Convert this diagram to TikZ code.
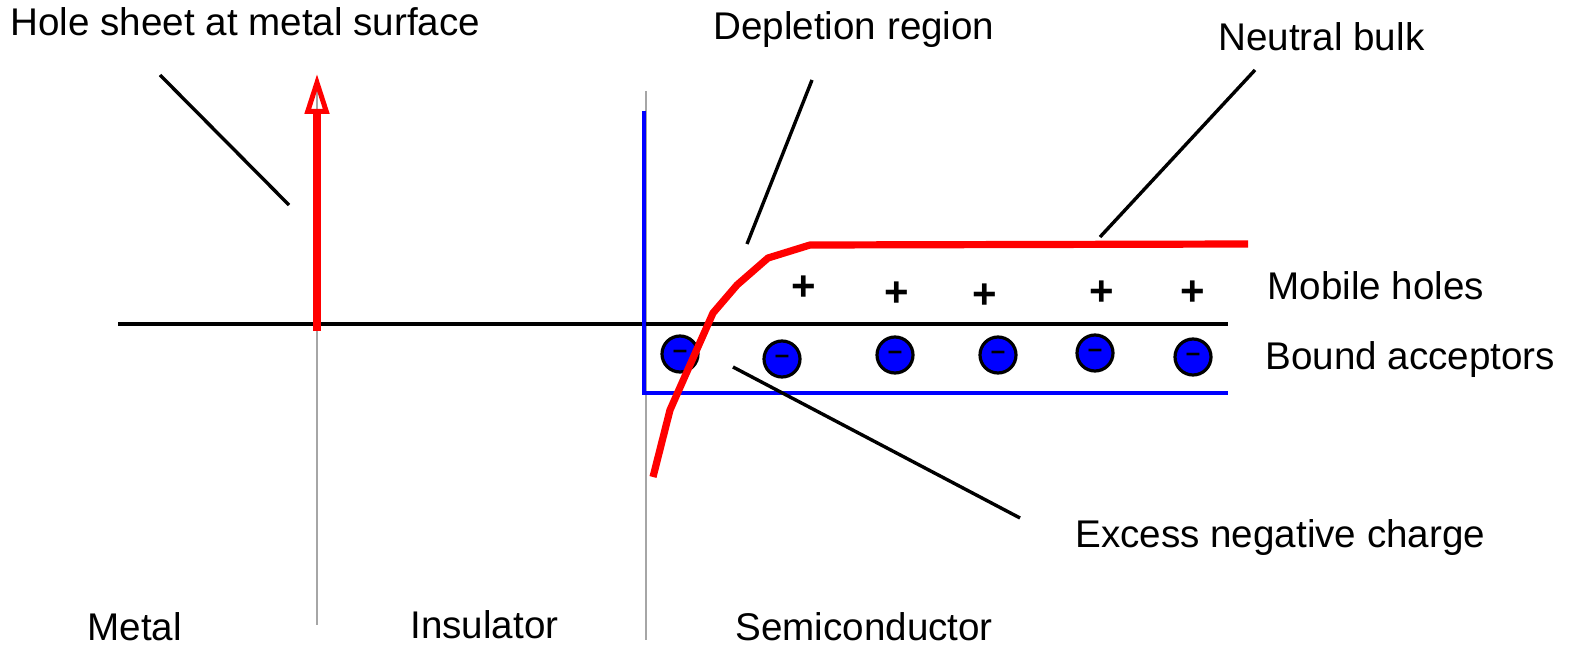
\documentclass[tikz,border=0pt]{standalone}
\usepackage{fontspec}
\setmainfont{Liberation Sans}
\usetikzlibrary{arrows.meta}

\tikzset{
  label/.style={inner sep=0pt, anchor=west, font=\fontsize{19.3}{23}\selectfont},
  acceptor/.style={circle, draw=black, line width=1.6pt, fill=blue, minimum size=18pt, inner sep=0pt, font=\fontsize{13}{13}\selectfont\bfseries},
  hole/.style={inner sep=0pt, font=\fontsize{21}{23}\selectfont\bfseries},
  leader/.style={line width=1.7pt, black},
  charge/.style={line width=3.6pt, red},
}

\begin{document}
\begin{tikzpicture}[x=0.5pt, y=-0.5pt]
\useasboundingbox (0,0) rectangle (1573,647);
%
% --- Labels ---
\node[label] (sheet) at (10,22) {Hole sheet at metal surface};
\node[label] (depl) at (713,30) {Depletion region};
\node[label] (bulk) at (1218,37) {Neutral bulk};
\node[label] (mobile) at (1267,286) {Mobile holes};
\node[label] (bound) at (1265,360) {Bound acceptors};
\node[label] (excess) at (1075,538) {Excess negative charge};
\node[label] (metal) at (87,627) {Metal};
\node[label] (insul) at (410,625) {Insulator};
\node[label] (semi) at (735,627) {Semiconductor};
%
% --- Interfaces and axis ---
\coordinate (m0) at (317,77);
\coordinate (m1) at (317,625);
\coordinate (i0) at (646,91);
\coordinate (i1) at (646,640);
\coordinate (ax0) at (118,324);
\coordinate (ax1) at (1228,324);
\draw[gray!70, line width=0.6pt] (m0)--(m1);
\draw[gray!70, line width=0.6pt] (i0)--(i1);
\draw[line width=1.7pt] (ax0)--(ax1);
%
% --- Box of the semiconductor charge ---
\coordinate (b0) at (644,111);
\coordinate (b1) at (644,393);
\coordinate (b2) at (1228,393);
\draw[blue, line width=1.6pt] (b0)--(b1)--(b2);
%
% --- Bound acceptors ---
\node[acceptor] (n1) at (680,354) {--};
\node[acceptor] (n2) at (782,359) {--};
\node[acceptor] (n3) at (895,355) {--};
\node[acceptor] (n4) at (998,355) {--};
\node[acceptor] (n5) at (1095,353) {--};
\node[acceptor] (n6) at (1193,357) {--};
%
% --- Mobile holes ---
\node[hole] (p1) at (804,288) {+};
\node[hole] (p2) at (897,294) {+};
\node[hole] (p3) at (985,296) {+};
\node[hole] (p4) at (1102,293) {+};
\node[hole] (p5) at (1193,293) {+};
%
% --- Hole sheet (arrow) ---
\coordinate (h0) at (317,331);
\coordinate (h1) at (317,74);
\draw[charge, -{Triangle[open, length=20pt, width=12pt, line width=2.5pt]}] (h0)--(h1);
%
% --- Charge curve ---
\coordinate (c1) at (653,477);
\coordinate (c2) at (670,410);
\coordinate (c3) at (713,313);
\coordinate (c4) at (737,285);
\coordinate (c5) at (768,258);
\coordinate (c6) at (810,245);
\coordinate (c7) at (1248,244);
\draw[charge, line join=round] (c1)--(c2)--(c3)--(c4)--(c5)--(c6)--(c7);
%
% --- Leaders ---
\coordinate (l1a) at (160,75);
\coordinate (l1b) at (289,205);
\coordinate (l2a) at (747,244);
\coordinate (l2b) at (812,80);
\coordinate (l3a) at (1100,237);
\coordinate (l3b) at (1255,70);
\coordinate (l4a) at (733,367);
\coordinate (l4b) at (1020,518);
\draw[leader] (l1a)--(l1b);
\draw[leader] (l2a)--(l2b);
\draw[leader] (l3a)--(l3b);
\draw[leader] (l4a)--(l4b);
%
\end{tikzpicture}
\end{document}
